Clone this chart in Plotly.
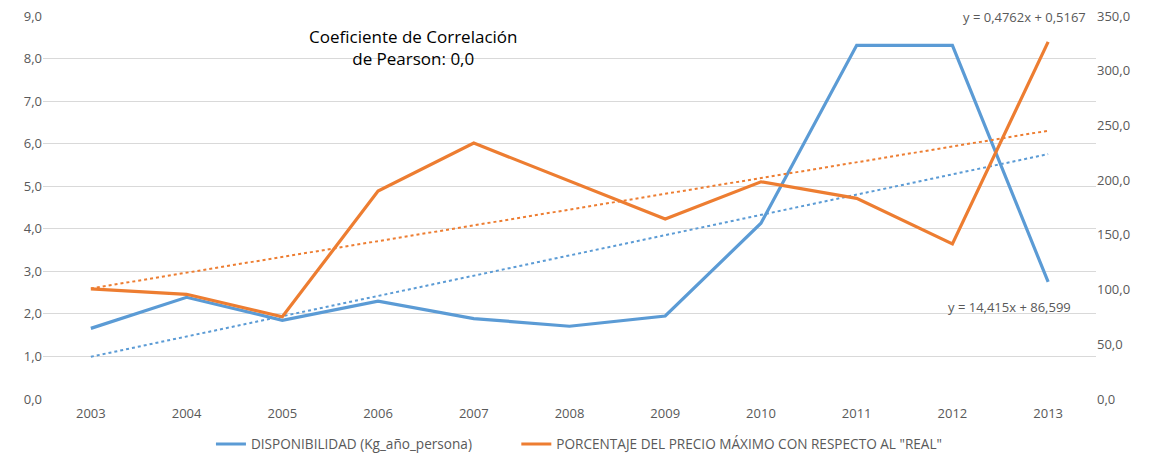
import plotly.graph_objects as go

years = [2003, 2004, 2005, 2006, 2007, 2008, 2009, 2010, 2011, 2012, 2013]
disponibilidad = [1.66, 2.39, 1.85, 2.30, 1.89, 1.71, 1.95, 4.13, 8.31, 8.31, 2.75]
porcentaje = [100.6, 95.7, 75.2, 190.0, 233.9, 199.0, 164.5, 198.5, 183.4, 141.8, 326.4]

# trend line coefficients as printed on the chart (x = 1..n)
trend_disp = (0.4762, 0.5167)
trend_porc = (14.415, 86.599)

blue = "#5B9BD5"
orange = "#ED7D31"
font = "Open Sans"

idx = list(range(1, len(years) + 1))
trend_disp_y = [trend_disp[0] * i + trend_disp[1] for i in idx]
trend_porc_y = [trend_porc[0] * i + trend_porc[1] for i in idx]

fig = go.Figure()
fig.add_trace(go.Scatter(x=years, y=trend_disp_y, mode="lines", showlegend=False,
                         line=dict(color=blue, width=2, dash="dot"), yaxis="y"))
fig.add_trace(go.Scatter(x=years, y=trend_porc_y, mode="lines", showlegend=False,
                         line=dict(color=orange, width=2, dash="dot"), yaxis="y2"))
fig.add_trace(go.Scatter(x=years, y=disponibilidad, mode="lines",
                         name="DISPONIBILIDAD (Kg_año_persona)", legend="legend",
                         line=dict(color=blue, width=3.2), yaxis="y"))
fig.add_trace(go.Scatter(x=years, y=porcentaje, mode="lines",
                         name='PORCENTAJE DEL PRECIO MÁXIMO CON RESPECTO AL "REAL"',
                         legend="legend2", line=dict(color=orange, width=3.2), yaxis="y2"))

fig.add_annotation(text="Coeficiente de Correlación<br>de Pearson: 0,0", xref="x", yref="y",
                   x=2006.36, y=8.27, showarrow=False, align="center",
                   font=dict(family=font, size=17, color="#000000"))
fig.add_annotation(text="y = 0,4762x + 0,5167", xref="paper", yref="paper",
                   x=0.9924, y=0.997, xanchor="right", yanchor="middle", showarrow=False,
                   font=dict(family=font, size=13, color="#595959"))
fig.add_annotation(text="y = 14,415x + 86,599", xref="paper", yref="paper",
                   x=0.978, y=0.239, xanchor="right", yanchor="middle", showarrow=False,
                   font=dict(family=font, size=13, color="#595959"))

legend_style = dict(orientation="h", y=-0.115, yanchor="middle", xanchor="left",
                    font=dict(family=font, size=13.6, color="#595959"))

# the page body adds an 8px margin on the left and top
fig.update_layout(
    width=1136, height=458,
    margin=dict(l=35, r=48, t=8, b=66),
    plot_bgcolor="white", paper_bgcolor="white",
    separators=",.",
    font=dict(family=font, size=13, color="#595959"),
    xaxis=dict(range=[2002.5, 2013.5], tickvals=years, showgrid=False, zeroline=False,
               showline=False, ticks="", automargin=False, ticklabelstandoff=5),
    yaxis=dict(range=[0, 9], dtick=1, tickformat=".1f", gridcolor="#D9D9D9", gridwidth=1.3,
               zeroline=False, showline=False, automargin=False,
               ticklabeloverflow="allow"),
    yaxis2=dict(range=[0, 350], dtick=50, tickformat=".1f", overlaying="y", side="right",
                showgrid=False, zeroline=False, showline=False, automargin=False,
                ticklabeloverflow="allow"),
    legend=dict(x=0.1595, **legend_style),
    legend2=dict(x=0.4495, **legend_style),
    showlegend=True,
)

fig.write_html("out.html")
